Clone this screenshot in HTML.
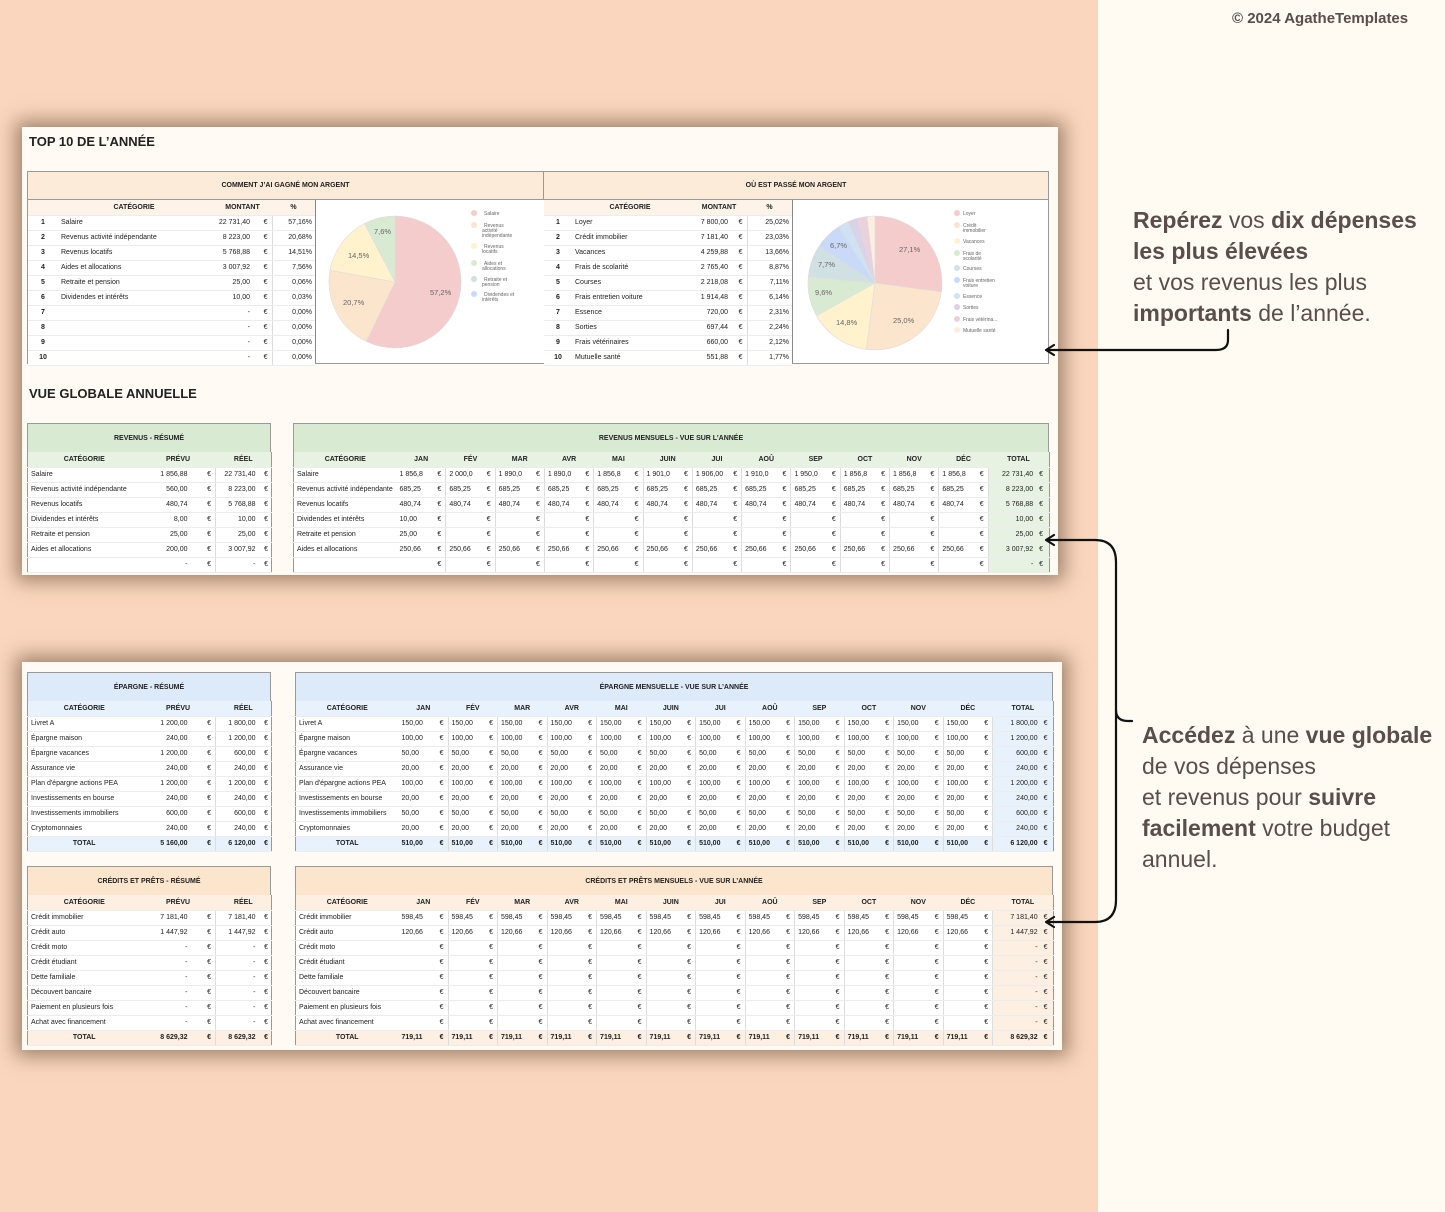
<!DOCTYPE html>
<html><head><meta charset="utf-8">
<style>
*{margin:0;padding:0;box-sizing:border-box}
body{width:1445px;height:1212px;position:relative;overflow:hidden;background:#f9d6bd;font-family:"Liberation Sans",sans-serif;color:#222}
.right{position:absolute;left:1098px;top:0;width:347px;height:1212px;background:#fffaf2}
.panel{position:absolute;background:#fffbf4;box-shadow:0 0 18px 6px rgba(90,60,40,.55)}
.abs{position:absolute}
table{border-collapse:collapse;table-layout:fixed;font-size:7px;position:absolute;background:#fff}
td{height:15px;padding:0 3px;white-space:nowrap;overflow:hidden;border-bottom:1px solid #ececec}
.box{border:1px solid #999}
.hd td{font-weight:bold;text-align:center}
.r{text-align:right}.c{text-align:center}
.e{text-align:right;padding-right:4px;border-right:1px solid #ddd}
.b td{font-weight:bold}
.ttl{font-weight:bold;font-size:13px;position:absolute}
.band{position:absolute;font-size:7px;font-weight:bold;display:flex;align-items:center;justify-content:center;border:1px solid #999}
.txt{position:absolute;font-size:23px;line-height:31px;color:#5a4d4a}
.txt b{font-weight:bold}
</style></head><body>
<div class="right"></div>
<div class="abs" style="left:1232px;top:10px;font-size:15px;font-weight:bold;color:#5a4d4a">© 2024 AgatheTemplates</div>

<div class="txt" style="left:1133px;top:205px"><b>Repérez</b> vos <b>dix dépenses<br>les plus élevées</b><br>et vos revenus les plus<br><b>importants</b> de l’année.</div>
<div class="txt" style="left:1142px;top:720px"><b>Accédez</b> à une <b>vue globale</b><br>de vos dépenses<br>et revenus pour <b>suivre<br>facilement</b> votre budget<br>annuel.</div>

<!-- PANEL 1 -->
<div class="panel" style="left:22px;top:127px;width:1036px;height:448px"></div>
<div class="ttl" style="left:29px;top:134px">TOP 10 DE L’ANNÉE</div>
<div class="abs" style="left:27px;top:171px;width:1022px;height:193px;border:1px solid #999;background:#fff"></div>
<div class="band" style="left:27px;top:171px;width:517px;height:29px;background:#fdebd9">COMMENT J’AI GAGNÉ MON ARGENT</div>
<div class="band" style="left:543px;top:171px;width:506px;height:29px;background:#fdebd9">OÙ EST PASSÉ MON ARGENT</div>

<table style="left:28px;top:200px;width:287px">
<colgroup><col style="width:30px"><col style="width:155px"><col style="width:40px"><col style="width:19px"><col style="width:43px"></colgroup>
<tr class="hd" style="background:#fef3e8"><td colspan="2" style="padding-left:30px">CATÉGORIE</td><td colspan="2">MONTANT</td><td>%</td></tr>
<tr><td class="c"><b>1</b></td><td>Salaire</td><td class="r">22 731,40</td><td class="e">€</td><td class="r">57,16%</td></tr>
<tr><td class="c"><b>2</b></td><td>Revenus activité indépendante</td><td class="r">8 223,00</td><td class="e">€</td><td class="r">20,68%</td></tr>
<tr><td class="c"><b>3</b></td><td>Revenus locatifs</td><td class="r">5 768,88</td><td class="e">€</td><td class="r">14,51%</td></tr>
<tr><td class="c"><b>4</b></td><td>Aides et allocations</td><td class="r">3 007,92</td><td class="e">€</td><td class="r">7,56%</td></tr>
<tr><td class="c"><b>5</b></td><td>Retraite et pension</td><td class="r">25,00</td><td class="e">€</td><td class="r">0,06%</td></tr>
<tr><td class="c"><b>6</b></td><td>Dividendes et intérêts</td><td class="r">10,00</td><td class="e">€</td><td class="r">0,03%</td></tr>
<tr><td class="c"><b>7</b></td><td></td><td class="r">-</td><td class="e">€</td><td class="r">0,00%</td></tr>
<tr><td class="c"><b>8</b></td><td></td><td class="r">-</td><td class="e">€</td><td class="r">0,00%</td></tr>
<tr><td class="c"><b>9</b></td><td></td><td class="r">-</td><td class="e">€</td><td class="r">0,00%</td></tr>
<tr><td class="c"><b>10</b></td><td></td><td class="r">-</td><td class="e">€</td><td class="r">0,00%</td></tr>
</table>
<div class="abs" style="left:315px;top:200px;width:1px;height:163px;background:#888"></div>

<table style="left:544px;top:200px;width:248px">
<colgroup><col style="width:28px"><col style="width:119px"><col style="width:40px"><col style="width:16px"><col style="width:45px"></colgroup>
<tr class="hd" style="background:#fef3e8"><td colspan="2" style="padding-left:28px">CATÉGORIE</td><td colspan="2">MONTANT</td><td>%</td></tr>
<tr><td class="c"><b>1</b></td><td>Loyer</td><td class="r">7 800,00</td><td class="e">€</td><td class="r">25,02%</td></tr>
<tr><td class="c"><b>2</b></td><td>Crédit immobilier</td><td class="r">7 181,40</td><td class="e">€</td><td class="r">23,03%</td></tr>
<tr><td class="c"><b>3</b></td><td>Vacances</td><td class="r">4 259,88</td><td class="e">€</td><td class="r">13,66%</td></tr>
<tr><td class="c"><b>4</b></td><td>Frais de scolarité</td><td class="r">2 765,40</td><td class="e">€</td><td class="r">8,87%</td></tr>
<tr><td class="c"><b>5</b></td><td>Courses</td><td class="r">2 218,08</td><td class="e">€</td><td class="r">7,11%</td></tr>
<tr><td class="c"><b>6</b></td><td>Frais entretien voiture</td><td class="r">1 914,48</td><td class="e">€</td><td class="r">6,14%</td></tr>
<tr><td class="c"><b>7</b></td><td>Essence</td><td class="r">720,00</td><td class="e">€</td><td class="r">2,31%</td></tr>
<tr><td class="c"><b>8</b></td><td>Sorties</td><td class="r">697,44</td><td class="e">€</td><td class="r">2,24%</td></tr>
<tr><td class="c"><b>9</b></td><td>Frais vétérinaires</td><td class="r">660,00</td><td class="e">€</td><td class="r">2,12%</td></tr>
<tr><td class="c"><b>10</b></td><td>Mutuelle santé</td><td class="r">551,88</td><td class="e">€</td><td class="r">1,77%</td></tr>
</table>
<div class="abs" style="left:792px;top:200px;width:1px;height:163px;background:#888"></div>

<svg class="abs" style="left:0;top:0" width="1445" height="1212" font-family="Liberation Sans, sans-serif">
<g stroke="#ddd" stroke-width="0.6">
<path d="M395,282 L395,216 A66,66 0 1 1 366.3,341.4Z" fill="#f4cccc"/>
<path d="M395,282 L366.3,341.4 A66,66 0 0 1 330,270.3Z" fill="#fce5cd"/>
<path d="M395,282 L330,270.3 A66,66 0 0 1 364.5,223.5Z" fill="#fff2cc"/>
<path d="M395,282 L364.5,223.5 A66,66 0 0 1 395,216Z" fill="#d9ead3"/>
</g>
<g font-size="7.5" fill="#666">
<text x="430" y="295">57,2%</text><text x="343" y="305">20,7%</text><text x="348" y="258">14,5%</text><text x="374" y="234">7,6%</text>
</g>
<g font-size="5" fill="#666">
<circle cx="474" cy="213" r="3" fill="#f4cccc"/><text x="484" y="215">Salaire</text>
<circle cx="474" cy="225" r="3" fill="#fce5cd"/><text x="484" y="227">Revenus</text><text x="482" y="232">activité</text><text x="482" y="237">indépendante</text>
<circle cx="474" cy="246" r="3" fill="#fff2cc"/><text x="484" y="248">Revenus</text><text x="482" y="253">locatifs</text>
<circle cx="474" cy="263" r="3" fill="#d9ead3"/><text x="484" y="265">Aides et</text><text x="482" y="270">allocations</text>
<circle cx="474" cy="279" r="3" fill="#d0e0e3"/><text x="484" y="281">Retraite et</text><text x="482" y="286">pension</text>
<circle cx="474" cy="294" r="3" fill="#c9daf8"/><text x="484" y="296">Dividendes et</text><text x="482" y="301">intérêts</text>
</g>
<g stroke="#ddd" stroke-width="0.6">
<path d="M875,283 L875,216 A67,67 0 0 1 941.4,291.9Z" fill="#f4cccc"/>
<path d="M875,283 L941.4,291.9 A67,67 0 0 1 866.3,349.4Z" fill="#fce5cd"/>
<path d="M875,283 L866.3,349.4 A67,67 0 0 1 816.5,315.7Z" fill="#fff2cc"/>
<path d="M875,283 L816.5,315.7 A67,67 0 0 1 808.3,276.7Z" fill="#d9ead3"/>
<path d="M875,283 L808.3,276.7 A67,67 0 0 1 818.9,246.4Z" fill="#d0e0e3"/>
<path d="M875,283 L818.9,246.4 A67,67 0 0 1 838.6,226.7Z" fill="#c9daf8"/>
<path d="M875,283 L838.6,226.7 A67,67 0 0 1 847.9,221.7Z" fill="#cfe2f3"/>
<path d="M875,283 L847.9,221.7 A67,67 0 0 1 857.4,218.3Z" fill="#d9d2e9"/>
<path d="M875,283 L857.4,218.3 A67,67 0 0 1 867,216.5Z" fill="#ead1dc"/>
<path d="M875,283 L867,216.5 A67,67 0 0 1 875,216Z" fill="#fdeee0"/>
</g>
<g font-size="7.5" fill="#666">
<text x="899" y="252">27,1%</text><text x="893" y="323">25,0%</text><text x="836" y="325">14,8%</text><text x="815" y="295">9,6%</text><text x="818" y="267">7,7%</text><text x="830" y="248">6,7%</text>
</g>
<g font-size="5" fill="#666">
<circle cx="957" cy="213" r="3" fill="#f4cccc"/><text x="963" y="215">Loyer</text>
<circle cx="957" cy="225" r="3" fill="#fce5cd"/><text x="963" y="227">Crédit</text><text x="963" y="232">immobilier</text>
<circle cx="957" cy="241" r="3" fill="#fff2cc"/><text x="963" y="243">Vacances</text>
<circle cx="957" cy="253" r="3" fill="#d9ead3"/><text x="963" y="255">Frais de</text><text x="963" y="260">scolarité</text>
<circle cx="957" cy="268" r="3" fill="#d0e0e3"/><text x="963" y="270">Courses</text>
<circle cx="957" cy="280" r="3" fill="#c9daf8"/><text x="963" y="282">Frais entretien</text><text x="963" y="287">voiture</text>
<circle cx="957" cy="296" r="3" fill="#cfe2f3"/><text x="963" y="298">Essence</text>
<circle cx="957" cy="307" r="3" fill="#d9d2e9"/><text x="963" y="309">Sorties</text>
<circle cx="957" cy="319" r="3" fill="#ead1dc"/><text x="963" y="321">Frais vétérina...</text>
<circle cx="957" cy="330" r="3" fill="#fdeee0"/><text x="963" y="332">Mutuelle santé</text>
</g>
</svg>

<div class="ttl" style="left:29px;top:386px">VUE GLOBALE ANNUELLE</div>

<!-- Revenus résumé -->
<div class="band" style="left:27px;top:423px;width:244px;height:30px;background:#d9ead3">REVENUS - RÉSUMÉ</div>
<table style="left:27px;top:452px;width:244px;border-left:1px solid #999;border-right:1px solid #999">
<colgroup><col style="width:113px"><col style="width:50px"><col style="width:25px"><col style="width:43px"><col style="width:13px"></colgroup>
<tr class="hd" style="background:#e7f2e2"><td>CATÉGORIE</td><td colspan="2">PRÉVU</td><td colspan="2">RÉEL</td></tr>
<tr><td>Salaire</td><td class="r">1 856,88</td><td class="e">€</td><td class="r">22 731,40</td><td class="r">€</td></tr>
<tr><td>Revenus activité indépendante</td><td class="r">560,00</td><td class="e">€</td><td class="r">8 223,00</td><td class="r">€</td></tr>
<tr><td>Revenus locatifs</td><td class="r">480,74</td><td class="e">€</td><td class="r">5 768,88</td><td class="r">€</td></tr>
<tr><td>Dividendes et intérêts</td><td class="r">8,00</td><td class="e">€</td><td class="r">10,00</td><td class="r">€</td></tr>
<tr><td>Retraite et pension</td><td class="r">25,00</td><td class="e">€</td><td class="r">25,00</td><td class="r">€</td></tr>
<tr><td>Aides et allocations</td><td class="r">200,00</td><td class="e">€</td><td class="r">3 007,92</td><td class="r">€</td></tr>
<tr><td></td><td class="r">-</td><td class="e">€</td><td class="r">-</td><td class="r">€</td></tr>
</table>

<!-- Revenus mensuels -->
<div class="band" style="left:293px;top:423px;width:756px;height:30px;background:#d9ead3">REVENUS MENSUELS - VUE SUR L’ANNÉE</div>
<table style="left:293px;top:452px;width:756px;border-left:1px solid #999;border-right:1px solid #999">
<colgroup><col style="width:103px"><col style="width:37px"><col style="width:12.3px"><col style="width:37px"><col style="width:12.3px"><col style="width:37px"><col style="width:12.3px"><col style="width:37px"><col style="width:12.3px"><col style="width:37px"><col style="width:12.3px"><col style="width:37px"><col style="width:12.3px"><col style="width:37px"><col style="width:12.3px"><col style="width:37px"><col style="width:12.3px"><col style="width:37px"><col style="width:12.3px"><col style="width:37px"><col style="width:12.3px"><col style="width:37px"><col style="width:12.3px"><col style="width:37px"><col style="width:12.3px"><col style="width:48px"><col style="width:13px"></colgroup>
<tr class="hd" style="background:#e7f2e2"><td>CATÉGORIE</td><td colspan="2">JAN</td><td colspan="2">FÉV</td><td colspan="2">MAR</td><td colspan="2">AVR</td><td colspan="2">MAI</td><td colspan="2">JUIN</td><td colspan="2">JUI</td><td colspan="2">AOÛ</td><td colspan="2">SEP</td><td colspan="2">OCT</td><td colspan="2">NOV</td><td colspan="2">DÉC</td><td colspan="2">TOTAL</td></tr>
<tr><td>Salaire</td><td>1 856,8</td><td class="e">€</td><td>2 000,0</td><td class="e">€</td><td>1 890,0</td><td class="e">€</td><td>1 890,0</td><td class="e">€</td><td>1 856,8</td><td class="e">€</td><td>1 901,0</td><td class="e">€</td><td>1 906,00</td><td class="e">€</td><td>1 910,0</td><td class="e">€</td><td>1 950,0</td><td class="e">€</td><td>1 856,8</td><td class="e">€</td><td>1 856,8</td><td class="e">€</td><td>1 856,8</td><td class="e">€</td><td class="r" style="background:#e7f2e2">22 731,40</td><td style="background:#e7f2e2">€</td></tr>
<tr><td>Revenus activité indépendante</td><td>685,25</td><td class="e">€</td><td>685,25</td><td class="e">€</td><td>685,25</td><td class="e">€</td><td>685,25</td><td class="e">€</td><td>685,25</td><td class="e">€</td><td>685,25</td><td class="e">€</td><td>685,25</td><td class="e">€</td><td>685,25</td><td class="e">€</td><td>685,25</td><td class="e">€</td><td>685,25</td><td class="e">€</td><td>685,25</td><td class="e">€</td><td>685,25</td><td class="e">€</td><td class="r" style="background:#e7f2e2">8 223,00</td><td style="background:#e7f2e2">€</td></tr>
<tr><td>Revenus locatifs</td><td>480,74</td><td class="e">€</td><td>480,74</td><td class="e">€</td><td>480,74</td><td class="e">€</td><td>480,74</td><td class="e">€</td><td>480,74</td><td class="e">€</td><td>480,74</td><td class="e">€</td><td>480,74</td><td class="e">€</td><td>480,74</td><td class="e">€</td><td>480,74</td><td class="e">€</td><td>480,74</td><td class="e">€</td><td>480,74</td><td class="e">€</td><td>480,74</td><td class="e">€</td><td class="r" style="background:#e7f2e2">5 768,88</td><td style="background:#e7f2e2">€</td></tr>
<tr><td>Dividendes et intérêts</td><td>10,00</td><td class="e">€</td><td></td><td class="e">€</td><td></td><td class="e">€</td><td></td><td class="e">€</td><td></td><td class="e">€</td><td></td><td class="e">€</td><td></td><td class="e">€</td><td></td><td class="e">€</td><td></td><td class="e">€</td><td></td><td class="e">€</td><td></td><td class="e">€</td><td></td><td class="e">€</td><td class="r" style="background:#e7f2e2">10,00</td><td style="background:#e7f2e2">€</td></tr>
<tr><td>Retraite et pension</td><td>25,00</td><td class="e">€</td><td></td><td class="e">€</td><td></td><td class="e">€</td><td></td><td class="e">€</td><td></td><td class="e">€</td><td></td><td class="e">€</td><td></td><td class="e">€</td><td></td><td class="e">€</td><td></td><td class="e">€</td><td></td><td class="e">€</td><td></td><td class="e">€</td><td></td><td class="e">€</td><td class="r" style="background:#e7f2e2">25,00</td><td style="background:#e7f2e2">€</td></tr>
<tr><td>Aides et allocations</td><td>250,66</td><td class="e">€</td><td>250,66</td><td class="e">€</td><td>250,66</td><td class="e">€</td><td>250,66</td><td class="e">€</td><td>250,66</td><td class="e">€</td><td>250,66</td><td class="e">€</td><td>250,66</td><td class="e">€</td><td>250,66</td><td class="e">€</td><td>250,66</td><td class="e">€</td><td>250,66</td><td class="e">€</td><td>250,66</td><td class="e">€</td><td>250,66</td><td class="e">€</td><td class="r" style="background:#e7f2e2">3 007,92</td><td style="background:#e7f2e2">€</td></tr>
<tr><td></td><td></td><td class="e">€</td><td></td><td class="e">€</td><td></td><td class="e">€</td><td></td><td class="e">€</td><td></td><td class="e">€</td><td></td><td class="e">€</td><td></td><td class="e">€</td><td></td><td class="e">€</td><td></td><td class="e">€</td><td></td><td class="e">€</td><td></td><td class="e">€</td><td></td><td class="e">€</td><td class="r" style="background:#e7f2e2">-</td><td style="background:#e7f2e2">€</td></tr>
</table>

<!-- PANEL 2 -->
<div class="panel" style="left:22px;top:662px;width:1040px;height:388px"></div>

<div class="band" style="left:27px;top:672px;width:244px;height:30px;background:#dceafa">ÉPARGNE - RÉSUMÉ</div>
<table style="left:27px;top:701px;width:244px;border:1px solid #999;border-top:none">
<colgroup><col style="width:113px"><col style="width:50px"><col style="width:25px"><col style="width:43px"><col style="width:13px"></colgroup>
<tr class="hd" style="background:#e8f2fc"><td>CATÉGORIE</td><td colspan="2">PRÉVU</td><td colspan="2">RÉEL</td></tr>
<tr><td>Livret A</td><td class="r">1 200,00</td><td class="e">€</td><td class="r">1 800,00</td><td class="r">€</td></tr>
<tr><td>Épargne maison</td><td class="r">240,00</td><td class="e">€</td><td class="r">1 200,00</td><td class="r">€</td></tr>
<tr><td>Épargne vacances</td><td class="r">1 200,00</td><td class="e">€</td><td class="r">600,00</td><td class="r">€</td></tr>
<tr><td>Assurance vie</td><td class="r">240,00</td><td class="e">€</td><td class="r">240,00</td><td class="r">€</td></tr>
<tr><td>Plan d'épargne actions PEA</td><td class="r">1 200,00</td><td class="e">€</td><td class="r">1 200,00</td><td class="r">€</td></tr>
<tr><td>Investissements en bourse</td><td class="r">240,00</td><td class="e">€</td><td class="r">240,00</td><td class="r">€</td></tr>
<tr><td>Investissements immobiliers</td><td class="r">600,00</td><td class="e">€</td><td class="r">600,00</td><td class="r">€</td></tr>
<tr><td>Cryptomonnaies</td><td class="r">240,00</td><td class="e">€</td><td class="r">240,00</td><td class="r">€</td></tr>
<tr class="b" style="background:#e8f2fc;border-top:1px solid #999"><td class="c">TOTAL</td><td class="r">5 160,00</td><td class="e">€</td><td class="r">6 120,00</td><td class="r">€</td></tr>
</table>

<div class="band" style="left:295px;top:672px;width:758px;height:30px;background:#dceafa">ÉPARGNE MENSUELLE - VUE SUR L’ANNÉE</div>
<table style="left:295px;top:701px;width:758px;border:1px solid #999;border-top:none">
<colgroup><col style="width:103px"><col style="width:37px"><col style="width:12.5px"><col style="width:37px"><col style="width:12.5px"><col style="width:37px"><col style="width:12.5px"><col style="width:37px"><col style="width:12.5px"><col style="width:37px"><col style="width:12.5px"><col style="width:37px"><col style="width:12.5px"><col style="width:37px"><col style="width:12.5px"><col style="width:37px"><col style="width:12.5px"><col style="width:37px"><col style="width:12.5px"><col style="width:37px"><col style="width:12.5px"><col style="width:37px"><col style="width:12.5px"><col style="width:37px"><col style="width:12.5px"><col style="width:48px"><col style="width:13px"></colgroup>
<tr class="hd" style="background:#e8f2fc"><td>CATÉGORIE</td><td colspan="2">JAN</td><td colspan="2">FÉV</td><td colspan="2">MAR</td><td colspan="2">AVR</td><td colspan="2">MAI</td><td colspan="2">JUIN</td><td colspan="2">JUI</td><td colspan="2">AOÛ</td><td colspan="2">SEP</td><td colspan="2">OCT</td><td colspan="2">NOV</td><td colspan="2">DÉC</td><td colspan="2">TOTAL</td></tr>
<tr><td>Livret A</td><td>150,00</td><td class="e">€</td><td>150,00</td><td class="e">€</td><td>150,00</td><td class="e">€</td><td>150,00</td><td class="e">€</td><td>150,00</td><td class="e">€</td><td>150,00</td><td class="e">€</td><td>150,00</td><td class="e">€</td><td>150,00</td><td class="e">€</td><td>150,00</td><td class="e">€</td><td>150,00</td><td class="e">€</td><td>150,00</td><td class="e">€</td><td>150,00</td><td class="e">€</td><td class="r" style="background:#e8f2fc">1 800,00</td><td style="background:#e8f2fc">€</td></tr>
<tr><td>Épargne maison</td><td>100,00</td><td class="e">€</td><td>100,00</td><td class="e">€</td><td>100,00</td><td class="e">€</td><td>100,00</td><td class="e">€</td><td>100,00</td><td class="e">€</td><td>100,00</td><td class="e">€</td><td>100,00</td><td class="e">€</td><td>100,00</td><td class="e">€</td><td>100,00</td><td class="e">€</td><td>100,00</td><td class="e">€</td><td>100,00</td><td class="e">€</td><td>100,00</td><td class="e">€</td><td class="r" style="background:#e8f2fc">1 200,00</td><td style="background:#e8f2fc">€</td></tr>
<tr><td>Épargne vacances</td><td>50,00</td><td class="e">€</td><td>50,00</td><td class="e">€</td><td>50,00</td><td class="e">€</td><td>50,00</td><td class="e">€</td><td>50,00</td><td class="e">€</td><td>50,00</td><td class="e">€</td><td>50,00</td><td class="e">€</td><td>50,00</td><td class="e">€</td><td>50,00</td><td class="e">€</td><td>50,00</td><td class="e">€</td><td>50,00</td><td class="e">€</td><td>50,00</td><td class="e">€</td><td class="r" style="background:#e8f2fc">600,00</td><td style="background:#e8f2fc">€</td></tr>
<tr><td>Assurance vie</td><td>20,00</td><td class="e">€</td><td>20,00</td><td class="e">€</td><td>20,00</td><td class="e">€</td><td>20,00</td><td class="e">€</td><td>20,00</td><td class="e">€</td><td>20,00</td><td class="e">€</td><td>20,00</td><td class="e">€</td><td>20,00</td><td class="e">€</td><td>20,00</td><td class="e">€</td><td>20,00</td><td class="e">€</td><td>20,00</td><td class="e">€</td><td>20,00</td><td class="e">€</td><td class="r" style="background:#e8f2fc">240,00</td><td style="background:#e8f2fc">€</td></tr>
<tr><td>Plan d'épargne actions PEA</td><td>100,00</td><td class="e">€</td><td>100,00</td><td class="e">€</td><td>100,00</td><td class="e">€</td><td>100,00</td><td class="e">€</td><td>100,00</td><td class="e">€</td><td>100,00</td><td class="e">€</td><td>100,00</td><td class="e">€</td><td>100,00</td><td class="e">€</td><td>100,00</td><td class="e">€</td><td>100,00</td><td class="e">€</td><td>100,00</td><td class="e">€</td><td>100,00</td><td class="e">€</td><td class="r" style="background:#e8f2fc">1 200,00</td><td style="background:#e8f2fc">€</td></tr>
<tr><td>Investissements en bourse</td><td>20,00</td><td class="e">€</td><td>20,00</td><td class="e">€</td><td>20,00</td><td class="e">€</td><td>20,00</td><td class="e">€</td><td>20,00</td><td class="e">€</td><td>20,00</td><td class="e">€</td><td>20,00</td><td class="e">€</td><td>20,00</td><td class="e">€</td><td>20,00</td><td class="e">€</td><td>20,00</td><td class="e">€</td><td>20,00</td><td class="e">€</td><td>20,00</td><td class="e">€</td><td class="r" style="background:#e8f2fc">240,00</td><td style="background:#e8f2fc">€</td></tr>
<tr><td>Investissements immobiliers</td><td>50,00</td><td class="e">€</td><td>50,00</td><td class="e">€</td><td>50,00</td><td class="e">€</td><td>50,00</td><td class="e">€</td><td>50,00</td><td class="e">€</td><td>50,00</td><td class="e">€</td><td>50,00</td><td class="e">€</td><td>50,00</td><td class="e">€</td><td>50,00</td><td class="e">€</td><td>50,00</td><td class="e">€</td><td>50,00</td><td class="e">€</td><td>50,00</td><td class="e">€</td><td class="r" style="background:#e8f2fc">600,00</td><td style="background:#e8f2fc">€</td></tr>
<tr><td>Cryptomonnaies</td><td>20,00</td><td class="e">€</td><td>20,00</td><td class="e">€</td><td>20,00</td><td class="e">€</td><td>20,00</td><td class="e">€</td><td>20,00</td><td class="e">€</td><td>20,00</td><td class="e">€</td><td>20,00</td><td class="e">€</td><td>20,00</td><td class="e">€</td><td>20,00</td><td class="e">€</td><td>20,00</td><td class="e">€</td><td>20,00</td><td class="e">€</td><td>20,00</td><td class="e">€</td><td class="r" style="background:#e8f2fc">240,00</td><td style="background:#e8f2fc">€</td></tr>
<tr class="b" style="background:#e8f2fc;border-top:1px solid #999"><td class="c">TOTAL</td><td>510,00</td><td class="e">€</td><td>510,00</td><td class="e">€</td><td>510,00</td><td class="e">€</td><td>510,00</td><td class="e">€</td><td>510,00</td><td class="e">€</td><td>510,00</td><td class="e">€</td><td>510,00</td><td class="e">€</td><td>510,00</td><td class="e">€</td><td>510,00</td><td class="e">€</td><td>510,00</td><td class="e">€</td><td>510,00</td><td class="e">€</td><td>510,00</td><td class="e">€</td><td class="r">6 120,00</td><td>€</td></tr>
</table>

<div class="band" style="left:27px;top:866px;width:244px;height:30px;background:#fce5cd">CRÉDITS ET PRÊTS - RÉSUMÉ</div>
<table style="left:27px;top:895px;width:244px;border:1px solid #999;border-top:none">
<colgroup><col style="width:113px"><col style="width:50px"><col style="width:25px"><col style="width:43px"><col style="width:13px"></colgroup>
<tr class="hd" style="background:#fdf0e2"><td>CATÉGORIE</td><td colspan="2">PRÉVU</td><td colspan="2">RÉEL</td></tr>
<tr><td>Crédit immobilier</td><td class="r">7 181,40</td><td class="e">€</td><td class="r">7 181,40</td><td class="r">€</td></tr>
<tr><td>Crédit auto</td><td class="r">1 447,92</td><td class="e">€</td><td class="r">1 447,92</td><td class="r">€</td></tr>
<tr><td>Crédit moto</td><td class="r">-</td><td class="e">€</td><td class="r">-</td><td class="r">€</td></tr>
<tr><td>Crédit étudiant</td><td class="r">-</td><td class="e">€</td><td class="r">-</td><td class="r">€</td></tr>
<tr><td>Dette familiale</td><td class="r">-</td><td class="e">€</td><td class="r">-</td><td class="r">€</td></tr>
<tr><td>Découvert bancaire</td><td class="r">-</td><td class="e">€</td><td class="r">-</td><td class="r">€</td></tr>
<tr><td>Paiement en plusieurs fois</td><td class="r">-</td><td class="e">€</td><td class="r">-</td><td class="r">€</td></tr>
<tr><td>Achat avec financement</td><td class="r">-</td><td class="e">€</td><td class="r">-</td><td class="r">€</td></tr>
<tr class="b" style="background:#fdf0e2;border-top:1px solid #999"><td class="c">TOTAL</td><td class="r">8 629,32</td><td class="e">€</td><td class="r">8 629,32</td><td class="r">€</td></tr>
</table>

<div class="band" style="left:295px;top:866px;width:758px;height:30px;background:#fce5cd">CRÉDITS ET PRÊTS MENSUELS - VUE SUR L’ANNÉE</div>
<table style="left:295px;top:895px;width:758px;border:1px solid #999;border-top:none">
<colgroup><col style="width:103px"><col style="width:37px"><col style="width:12.5px"><col style="width:37px"><col style="width:12.5px"><col style="width:37px"><col style="width:12.5px"><col style="width:37px"><col style="width:12.5px"><col style="width:37px"><col style="width:12.5px"><col style="width:37px"><col style="width:12.5px"><col style="width:37px"><col style="width:12.5px"><col style="width:37px"><col style="width:12.5px"><col style="width:37px"><col style="width:12.5px"><col style="width:37px"><col style="width:12.5px"><col style="width:37px"><col style="width:12.5px"><col style="width:37px"><col style="width:12.5px"><col style="width:48px"><col style="width:13px"></colgroup>
<tr class="hd" style="background:#fdf0e2"><td>CATÉGORIE</td><td colspan="2">JAN</td><td colspan="2">FÉV</td><td colspan="2">MAR</td><td colspan="2">AVR</td><td colspan="2">MAI</td><td colspan="2">JUIN</td><td colspan="2">JUI</td><td colspan="2">AOÛ</td><td colspan="2">SEP</td><td colspan="2">OCT</td><td colspan="2">NOV</td><td colspan="2">DÉC</td><td colspan="2">TOTAL</td></tr>
<tr><td>Crédit immobilier</td><td>598,45</td><td class="e">€</td><td>598,45</td><td class="e">€</td><td>598,45</td><td class="e">€</td><td>598,45</td><td class="e">€</td><td>598,45</td><td class="e">€</td><td>598,45</td><td class="e">€</td><td>598,45</td><td class="e">€</td><td>598,45</td><td class="e">€</td><td>598,45</td><td class="e">€</td><td>598,45</td><td class="e">€</td><td>598,45</td><td class="e">€</td><td>598,45</td><td class="e">€</td><td class="r" style="background:#fdf0e2">7 181,40</td><td style="background:#fdf0e2">€</td></tr>
<tr><td>Crédit auto</td><td>120,66</td><td class="e">€</td><td>120,66</td><td class="e">€</td><td>120,66</td><td class="e">€</td><td>120,66</td><td class="e">€</td><td>120,66</td><td class="e">€</td><td>120,66</td><td class="e">€</td><td>120,66</td><td class="e">€</td><td>120,66</td><td class="e">€</td><td>120,66</td><td class="e">€</td><td>120,66</td><td class="e">€</td><td>120,66</td><td class="e">€</td><td>120,66</td><td class="e">€</td><td class="r" style="background:#fdf0e2">1 447,92</td><td style="background:#fdf0e2">€</td></tr>
<tr><td>Crédit moto</td><td></td><td class="e">€</td><td></td><td class="e">€</td><td></td><td class="e">€</td><td></td><td class="e">€</td><td></td><td class="e">€</td><td></td><td class="e">€</td><td></td><td class="e">€</td><td></td><td class="e">€</td><td></td><td class="e">€</td><td></td><td class="e">€</td><td></td><td class="e">€</td><td></td><td class="e">€</td><td class="r" style="background:#fdf0e2">-</td><td style="background:#fdf0e2">€</td></tr>
<tr><td>Crédit étudiant</td><td></td><td class="e">€</td><td></td><td class="e">€</td><td></td><td class="e">€</td><td></td><td class="e">€</td><td></td><td class="e">€</td><td></td><td class="e">€</td><td></td><td class="e">€</td><td></td><td class="e">€</td><td></td><td class="e">€</td><td></td><td class="e">€</td><td></td><td class="e">€</td><td></td><td class="e">€</td><td class="r" style="background:#fdf0e2">-</td><td style="background:#fdf0e2">€</td></tr>
<tr><td>Dette familiale</td><td></td><td class="e">€</td><td></td><td class="e">€</td><td></td><td class="e">€</td><td></td><td class="e">€</td><td></td><td class="e">€</td><td></td><td class="e">€</td><td></td><td class="e">€</td><td></td><td class="e">€</td><td></td><td class="e">€</td><td></td><td class="e">€</td><td></td><td class="e">€</td><td></td><td class="e">€</td><td class="r" style="background:#fdf0e2">-</td><td style="background:#fdf0e2">€</td></tr>
<tr><td>Découvert bancaire</td><td></td><td class="e">€</td><td></td><td class="e">€</td><td></td><td class="e">€</td><td></td><td class="e">€</td><td></td><td class="e">€</td><td></td><td class="e">€</td><td></td><td class="e">€</td><td></td><td class="e">€</td><td></td><td class="e">€</td><td></td><td class="e">€</td><td></td><td class="e">€</td><td></td><td class="e">€</td><td class="r" style="background:#fdf0e2">-</td><td style="background:#fdf0e2">€</td></tr>
<tr><td>Paiement en plusieurs fois</td><td></td><td class="e">€</td><td></td><td class="e">€</td><td></td><td class="e">€</td><td></td><td class="e">€</td><td></td><td class="e">€</td><td></td><td class="e">€</td><td></td><td class="e">€</td><td></td><td class="e">€</td><td></td><td class="e">€</td><td></td><td class="e">€</td><td></td><td class="e">€</td><td></td><td class="e">€</td><td class="r" style="background:#fdf0e2">-</td><td style="background:#fdf0e2">€</td></tr>
<tr><td>Achat avec financement</td><td></td><td class="e">€</td><td></td><td class="e">€</td><td></td><td class="e">€</td><td></td><td class="e">€</td><td></td><td class="e">€</td><td></td><td class="e">€</td><td></td><td class="e">€</td><td></td><td class="e">€</td><td></td><td class="e">€</td><td></td><td class="e">€</td><td></td><td class="e">€</td><td></td><td class="e">€</td><td class="r" style="background:#fdf0e2">-</td><td style="background:#fdf0e2">€</td></tr>
<tr class="b" style="background:#fdf0e2;border-top:1px solid #999"><td class="c">TOTAL</td><td>719,11</td><td class="e">€</td><td>719,11</td><td class="e">€</td><td>719,11</td><td class="e">€</td><td>719,11</td><td class="e">€</td><td>719,11</td><td class="e">€</td><td>719,11</td><td class="e">€</td><td>719,11</td><td class="e">€</td><td>719,11</td><td class="e">€</td><td>719,11</td><td class="e">€</td><td>719,11</td><td class="e">€</td><td>719,11</td><td class="e">€</td><td>719,11</td><td class="e">€</td><td class="r">8 629,32</td><td>€</td></tr>
</table>

<!-- arrows -->
<svg class="abs" style="left:0;top:0" width="1445" height="1212">
<g fill="none" stroke="#111" stroke-width="2.2" stroke-linecap="round" stroke-linejoin="round">
<path d="M1228,330 L1228,340 Q1228,350 1216,350 L1047,350"/>
<path d="M1054,345 L1046,350 L1054,355"/>
<path d="M1048,540 L1095,540 Q1116,540 1116,562 L1116,900 Q1116,922 1095,922 L1047,922"/>
<path d="M1054,535 L1046,540 L1054,545"/>
<path d="M1054,917 L1046,922 L1054,927"/>
<path d="M1116,710 Q1116,721 1128,721 L1132,721"/>
</g>
</svg>
</body></html>
